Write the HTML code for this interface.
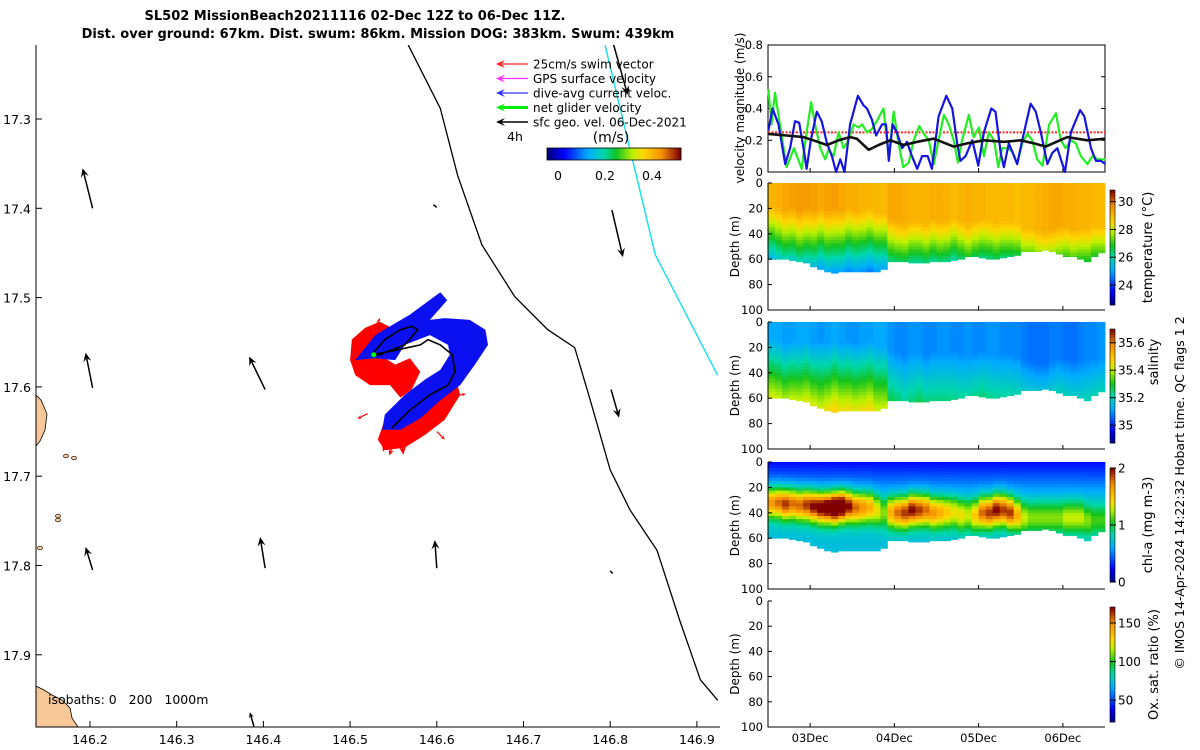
<!DOCTYPE html>
<html><head><meta charset="utf-8">
<style>
html,body{margin:0;padding:0;background:#fff;}
svg{display:block;font-family:"DejaVu Sans","Liberation Sans",sans-serif;}
</style></head>
<body>
<svg id="fig" width="1200" height="750" viewBox="0 0 1200 750" xmlns="http://www.w3.org/2000/svg">
<rect width="1200" height="750" fill="#fff"/>
<text x="355" y="20" text-anchor="middle" font-size="13" font-weight="bold">SL502 MissionBeach20211116 02-Dec 12Z to 06-Dec 11Z.</text>
<text x="378" y="38" text-anchor="middle" font-size="13" font-weight="bold">Dist. over ground: 67km. Dist. swum: 86km. Mission DOG: 383km. Swum: 439km</text>
<g id="map"></g>
<g id="right"></g>
<text transform="translate(1184,493) rotate(-90)" text-anchor="middle" font-size="12.5">© IMOS 14-Apr-2024 14:22:32 Hobart time. QC flags 1  2</text>
</svg>
<script>
// ---------- MAP DATA ----------
const lonTicks=[146.2,146.3,146.4,146.5,146.6,146.7,146.8,146.9];
const latTicks=[17.3,17.4,17.5,17.6,17.7,17.8,17.9];
const coastLon=[146.567,146.604,146.624,146.652,146.690,146.728,146.759,146.777,146.800,146.823,146.854,146.880,146.904,146.924];
const coastLat=[17.217,17.288,17.363,17.441,17.499,17.536,17.556,17.615,17.693,17.738,17.783,17.861,17.928,17.951];
const cyanLon=[146.794,146.852,146.924];
const cyanLat=[17.217,17.452,17.587];
const arrLon=[146.203,146.203,146.203,146.402,146.402,146.600,146.802,146.801,146.804,146.389,146.596,146.800];
const arrLat=[17.400,17.601,17.805,17.603,17.803,17.803,17.402,17.603,17.217,17.980,17.396,17.806];
const arrU=[-0.10,-0.07,-0.07,-0.16,-0.05,-0.02,0.11,0.08,0.14,-0.04,0.04,0.03];
const arrV=[0.40,0.35,0.23,0.33,0.31,0.28,-0.47,-0.28,-0.50,0.14,-0.03,-0.03];
const blueLon=[146.506,146.529,146.569,146.604,146.612,146.592,146.609,146.638,146.656,146.659,146.644,146.627,146.604,146.581,146.558,146.537,146.540,146.563,146.586,146.604,146.615,146.613,146.592,146.563,146.552,146.529];
const blueLat=[17.570,17.542,17.519,17.494,17.503,17.525,17.523,17.525,17.536,17.553,17.575,17.598,17.615,17.635,17.648,17.648,17.631,17.609,17.592,17.581,17.564,17.553,17.542,17.553,17.570,17.568];
const red1Lon=[146.502,146.517,146.534,146.552,146.558,146.534,146.552,146.569,146.581,146.571,146.558,146.546,146.523,146.506,146.500];
const red1Lat=[17.547,17.534,17.527,17.536,17.553,17.564,17.575,17.568,17.583,17.603,17.612,17.598,17.598,17.587,17.570];
const red2Lon=[146.540,146.563,146.586,146.609,146.621,146.627,146.609,146.586,146.563,146.540,146.532];
const red2Lat=[17.637,17.620,17.609,17.598,17.587,17.609,17.637,17.654,17.668,17.671,17.659];
const trackLon=[146.525,146.540,146.558,146.571,146.578,146.563,146.534,146.525,146.552,146.581,146.590,146.604,146.618,146.621,146.613,146.592,146.569,146.548];
const trackLat=[17.564,17.547,17.536,17.532,17.536,17.553,17.564,17.564,17.559,17.553,17.547,17.553,17.564,17.583,17.598,17.609,17.626,17.646];
const swimLon=[146.558,146.546,146.529,146.513,146.551,146.520,146.600,146.622];
const swimLat=[17.648,17.648,17.532,17.540,17.660,17.630,17.650,17.610];
const swimU=[0.03,-0.07,0.05,-0.08,-0.05,-0.10,0.08,0.10];
const swimV=[-0.25,-0.22,0.08,-0.08,-0.15,-0.05,-0.08,0.02];

// ---------- TIME SERIES DATA ----------
const dateTickLabels=["03Dec","04Dec","05Dec","06Dec"];
const dateTickHours=[12,36,60,84];
const velTicks=[0,0.2,0.4,0.6,0.8];
const depthTicks=[0,20,40,60,80,100];
const blueH=[0.1,1.3,3.0,4.9,6.3,7.7,8.9,10.1,11.0,12.2,13.9,15.3,16.8,18.2,19.4,20.6,21.8,23.4,25.6,27.2,28.2,29.6,30.8,32.5,33.6,34.4,35.5,36.7,38.2,39.6,41.0,42.5,43.9,45.5,46.7,48.6,50.8,52.5,53.9,54.8,56.3,58.2,59.9,61.5,63.6,64.8,66.3,67.2,68.6,70.1,71.0,72.4,74.8,76.3,77.7,79.6,81.0,82.4,84.6,86.3,88.9,90.1,92.0,93.4,94.8,96.1];
const blueV=[0.26,0.40,0.30,0.05,0.15,0.32,0.31,0.15,0.02,0.20,0.38,0.32,0.18,0.10,0.0,0.08,0.0,0.30,0.48,0.42,0.40,0.33,0.23,0.30,0.30,0.07,0.30,0.25,0.15,0.19,0.10,0.02,0.10,0.10,0.02,0.35,0.48,0.40,0.18,0.07,0.10,0.20,0.04,0.25,0.40,0.38,0.12,0.03,0.18,0.10,0.05,0.20,0.43,0.38,0.25,0.05,0.12,0.15,0.0,0.25,0.39,0.35,0.15,0.07,0.07,0.05];
const greenH=[0.1,1.0,2.0,3.4,5.3,7.4,9.6,11.0,12.3,13.4,14.9,16.3,17.2,18.7,20.1,21.5,22.9,24.4,25.8,26.8,28.2,29.6,31.0,32.9,34.4,35.8,37.2,38.5,40.1,41.5,43.1,44.4,45.8,47.2,48.6,50.1,51.5,52.9,54.1,55.3,57.2,58.6,60.1,61.5,62.9,64.4,65.6,66.7,68.2,69.6,71.0,72.4,73.9,75.3,76.7,78.2,80.1,82.0,83.4,84.8,86.3,87.7,89.1,91.0,92.4,93.9,96.1];
const greenV=[0.52,0.30,0.50,0.30,0.03,0.15,0.02,0.25,0.44,0.30,0.15,0.08,0.14,0.10,0.25,0.15,0.20,0.30,0.28,0.30,0.25,0.27,0.32,0.40,0.10,0.38,0.18,0.03,0.06,0.20,0.29,0.24,0.20,0.05,0.20,0.36,0.30,0.20,0.06,0.20,0.36,0.22,0.28,0.10,0.25,0.20,0.03,0.15,0.15,0.13,0.05,0.18,0.24,0.20,0.08,0.04,0.30,0.37,0.20,0.15,0.20,0.18,0.10,0.05,0.10,0.08,0.08];
const blackH=[0.1,5.3,10.1,12.9,16.8,20.1,23.4,25.3,28.7,31.5,34.8,38.7,42.5,47.2,52.9,56.7,61.5,67.2,72.0,75.8,79.1,85.3,91.0,96.1];
const blackV=[0.24,0.23,0.22,0.20,0.17,0.20,0.22,0.21,0.14,0.17,0.20,0.17,0.19,0.21,0.16,0.18,0.20,0.19,0.20,0.18,0.16,0.22,0.20,0.21];
const swimRef=[0.25];
const bottomDepth=[60,60,60,61,62,63,66,68,70,71,70,70,70,70,70,70,68,62,62,62,63,63,63,62,62,62,61,60,58,58,59,60,60,59,58,57,54,54,54,53,54,56,58,58,60,62,58,55];
const mixedDepth=[18,20,22,20,22,20,22,20,22,20,22,20,22,22,20,24,24,28,30,32,30,30,32,28,30,30,28,30,32,30,28,30,32,30,30,32,36,36,38,38,36,34,34,36,36,36,34,34];
const surfTemp=[29.1,29.2,29.3,29.4,29.5,29.5,29.4,29.3,29.4,29.5,29.3,29.2,29.2,29.1,29.1,29.0,29.0,29.3,29.3,29.2,29.1,29.1,29.1,29.2,29.2,29.1,29.0,29.1,29.2,29.1,29.1,29.0,29.0,29.0,29.0,28.9,29.0,29.0,29.1,29.2,29.3,29.3,29.2,29.2,29.1,29.1,29.0,29.0];
const surfSal=[35.12,35.12,35.11,35.11,35.12,35.12,35.11,35.10,35.11,35.12,35.11,35.10,35.10,35.11,35.11,35.12,35.12,35.10,35.09,35.09,35.10,35.10,35.09,35.09,35.10,35.10,35.09,35.09,35.10,35.09,35.09,35.10,35.10,35.09,35.09,35.09,35.08,35.07,35.07,35.07,35.08,35.08,35.07,35.07,35.08,35.09,35.09,35.10];
const salGrad=[0.0065,0.0065,0.0065,0.0065,0.0065,0.0065,0.0065,0.006,0.0065,0.0065,0.0065,0.0065,0.0065,0.0065,0.0065,0.006,0.006,0.0045,0.0045,0.004,0.004,0.0045,0.0045,0.004,0.004,0.004,0.004,0.004,0.004,0.0045,0.0045,0.004,0.004,0.004,0.004,0.004,0.0045,0.0045,0.0045,0.0045,0.0045,0.0045,0.0045,0.0045,0.004,0.004,0.004,0.004];
const chlPeak=[1.0,1.1,1.2,1.1,1.1,1.2,1.3,1.4,1.5,1.7,1.6,1.3,1.1,1.0,0.9,0.7,0.5,0.9,1.1,1.2,1.3,1.2,1.1,1.0,0.9,0.8,0.7,0.7,0.6,0.8,1.1,1.2,1.3,1.2,1.2,0.9,0.6,0.5,0.5,0.5,0.5,0.5,0.6,0.6,0.6,0.5,0.4,0.4];
const chlPeakDepth=[32,32,33,33,34,34,35,36,36,36,35,35,36,36,36,38,40,40,40,40,38,38,38,40,40,40,40,42,42,42,40,40,38,38,40,42,44,44,44,44,44,44,44,44,44,46,46,46];
const tempTicks=[24,26,28,30], salTicks=[35,35.2,35.4,35.6], chlTicks=[0,1,2], oxTicks=[50,100,150];

// ---------- helpers ----------
const NS="http://www.w3.org/2000/svg";
function mk(tag,attrs,parent){const e=document.createElementNS(NS,tag);for(const k in attrs)e.setAttribute(k,attrs[k]);parent.appendChild(e);return e;}
const stops=[[0,[0,0,130]],[0.12,[0,0,255]],[0.3,[0,170,255]],[0.42,[0,215,170]],[0.52,[20,195,30]],[0.64,[190,240,0]],[0.72,[255,215,0]],[0.86,[245,145,0]],[1,[128,0,0]]];
function cmap(t){t=Math.max(0,Math.min(1,t));for(let i=1;i<stops.length;i++){if(t<=stops[i][0]){const a=stops[i-1],b=stops[i],f=(t-a[0])/(b[0]-a[0]);const c=a[1].map((v,j)=>Math.round(v+(b[1][j]-v)*f));return`rgb(${c[0]},${c[1]},${c[2]})`;}}return"rgb(128,0,0)";}

// ---------- MAP ----------
const map=document.getElementById('map');
const lonX=l=>90+(l-146.2)*867, latY=l=>119+(l-17.3)*893;
const MX0=36,MX1=720,MY0=45,MY1=727;
mk('defs',{},map).innerHTML='<clipPath id="mclip"><rect x="36" y="45" width="684" height="682"/></clipPath>';
const mg=mk('g',{'clip-path':'url(#mclip)'},map);


const land1=mk('path',{d:'M36,395 L41,400 L47,414 L45,430 L40,441 L36,446 Z',fill:'#f9c898',stroke:'#000','stroke-width':0.8},mg);


const land2=mk('path',{d:'M36,686 L44,690 L52,695 L62,700 L70,708 L72,718 L78,727 L36,727 Z',fill:'#f9c898',stroke:'#000','stroke-width':0.8},mg);


[[66,456],[74,458],[58,516],[40,548],[58,520]].forEach(p=>{const d=mk('ellipse',{cx:p[0],cy:p[1],rx:2.5,ry:1.8,fill:'#f9c898',stroke:'#000','stroke-width':0.7},mg);});
function poly(lons,lats){return lons.map((l,i)=>lonX(l).toFixed(1)+','+latY(lats[i]).toFixed(1)).join(' ');}
const coast=mk('polyline',{points:poly(coastLon,coastLat),fill:'none',stroke:'#000','stroke-width':1.3},mg);


const cy=mk('polyline',{points:poly(cyanLon,cyanLat),fill:'none',stroke:'#22e0e8','stroke-width':1.5},mg);


const r1=mk('polygon',{points:poly(red1Lon,red1Lat),fill:'#ff0000'},mg);


const r2=mk('polygon',{points:poly(red2Lon,red2Lat),fill:'#ff0000'},mg);


function arrow(g,x,y,dx,dy,col,w,name){const x2=x+dx,y2=y+dy;const L=Math.hypot(dx,dy)||1;const ux=dx/L,uy=dy/L;const hl=Math.min(9,L*0.4),hw=hl*0.45;
 const ln=mk('line',{x1:x,y1:y,x2:x2-ux*hl*0.6,y2:y2-uy*hl*0.6,stroke:col,'stroke-width':w},g);
 
 
 const hd=mk('polygon',{points:`${x2},${y2} ${x2-ux*hl-uy*hw},${y2-uy*hl+ux*hw} ${x2-ux*hl*0.6},${y2-uy*hl*0.6} ${x2-ux*hl+uy*hw},${y2-uy*hl-ux*hw}`,fill:col},g);
 
 }
swimLon.forEach((l,i)=>arrow(mg,lonX(l),latY(swimLat[i]),swimU[i]*100,-swimV[i]*100,'#ff0000',1.2,'swim-vector'));
const bl=mk('polygon',{points:poly(blueLon,blueLat),fill:'#0a10f0'},mg);


const tr=mk('polyline',{points:poly(trackLon,trackLat),fill:'none',stroke:'#000','stroke-width':1.6},mg);


const gd=mk('circle',{cx:lonX(trackLon[0])+2,cy:latY(trackLat[0]),r:2.5,fill:'#00ff00'},mg);


arrLon.forEach((l,i)=>arrow(mg,lonX(l),latY(arrLat[i]),arrU[i]*100,-arrV[i]*100,'#000',1.5,'geostrophic-velocity-arrow'));
const ax=mk('path',{d:`M${MX0},${MY0} L${MX0},${MY1} L${MX1},${MY1}`,fill:'none',stroke:'#000','stroke-width':1},map);


lonTicks.forEach(t=>{const x=lonX(t);mk('line',{x1:x,y1:MY1,x2:x,y2:MY1-6,stroke:'#000'},map);const tx=mk('text',{x:x,y:744,'text-anchor':'middle','font-size':12.5},map);tx.textContent=t.toFixed(1);
 
 });
latTicks.forEach(t=>{const y=latY(t);mk('line',{x1:MX0,y1:y,x2:MX0+6,y2:y,stroke:'#000'},map);const tx=mk('text',{x:31,y:y+5,'text-anchor':'end','font-size':12.5},map);tx.textContent=t.toFixed(1);
 
 });
const iso=mk('text',{x:48,y:704,'font-size':12.5,style:'white-space:pre'},map);iso.textContent='isobaths: 0   200   1000m';


// legend
const legTxt=['25cm/s swim vector','GPS surface velocity','dive-avg current veloc.','net glider velocity','sfc geo. vel. 06-Dec-2021'];
const legCol=['#ff2020','#ff30ff','#3030ff','#00ee00','#000'];
const legW=[1.2,1.2,1.2,3,1.5];
const lg=mk('g',{},map);


legTxt.forEach((t,i)=>{const y=64+i*14.5;arrow(lg,528,y,-32,0,legCol[i],legW[i],'legend-swatch');const tx=mk('text',{x:533,y:y+4.5,'font-size':12},lg);tx.textContent=t;
 
 });
const h4=mk('text',{x:507,y:141,'font-size':12.5},lg);h4.textContent='4h';


const ms=mk('text',{x:611,y:142,'font-size':14,'text-anchor':'middle'},lg);ms.textContent='(m/s)';


for(let i=0;i<67;i++){const c=mk('rect',{x:547+i*2,y:148,width:2.3,height:12,fill:cmap(i/66)},lg);}
mk('rect',{x:547,y:148,width:134,height:12,fill:'none',stroke:'#000','stroke-width':0.8},lg);
[[0,558],[0.2,605],[0.4,652]].forEach(p=>{const tx=mk('text',{x:p[1],y:180,'text-anchor':'middle','font-size':12.5},lg);tx.textContent=p[0]===0?'0':p[0].toFixed(1);});

// ---------- RIGHT PANELS ----------
const R=document.getElementById('right');
const PX0=768,PX1=1105;
const hx=h=>PX0+h/96*(PX1-PX0);
const VY0=45,VY1=172;const vy=v=>VY1-v/0.8*(VY1-VY0);
const vb=mk('rect',{x:PX0,y:VY0,width:PX1-PX0,height:VY1-VY0,fill:'none',stroke:'#000','stroke-width':1},R);


velTicks.forEach(t=>{const y=vy(t);mk('line',{x1:PX0,y1:y,x2:PX0+4,y2:y,stroke:'#000'},R);mk('line',{x1:PX1,y1:y,x2:PX1-4,y2:y,stroke:'#000'},R);const tx=mk('text',{x:763,y:y+4,'text-anchor':'end','font-size':11.5},R);tx.textContent=t===0?'0':t.toFixed(1);
 
 });
dateTickHours.forEach(h=>{mk('line',{x1:hx(h),y1:VY1,x2:hx(h),y2:VY1-4,stroke:'#000'},R);});
const rr=mk('line',{x1:hx(0),y1:vy(swimRef[0]),x2:hx(96),y2:vy(swimRef[0]),stroke:'#ff2020','stroke-width':2,'stroke-dasharray':'2,1.5'},R);


function series(H,V,col,w,name){const p=mk('polyline',{points:H.map((h,i)=>hx(h).toFixed(1)+','+vy(V[i]).toFixed(1)).join(' '),fill:'none',stroke:col,'stroke-width':w,'stroke-linejoin':'round'},R);}
series(greenH,greenV,'#22ee22',2.2,'net-glider-velocity-line');
series(blueH,blueV,'#1515e0',2.2,'dive-avg-current-line');
series(blackH,blackV,'#111',2.6,'surface-geostrophic-line');
const vl=mk('text',{transform:'translate(744,108) rotate(-90)','text-anchor':'middle','font-size':12},R);vl.textContent='velocity magnitude (m/s)';



const panels=[
 {name:'temperature',y0:183,y1:310,cb0:190,cb1:305,vmin:22.56,vmax:30.84,ticks:tempTicks,label:'temperature (°C)',fmt:v=>String(v),
  f:(i,z)=>surfTemp[i]-0.09*Math.max(0,z-mixedDepth[i])},
 {name:'salinity',y0:322,y1:449,cb0:329,cb1:443,vmin:34.87,vmax:35.70,ticks:salTicks,label:'salinity',fmt:v=>v===35?'35':v.toFixed(1),
  f:(i,z)=>surfSal[i]+salGrad[i]*Math.max(0,z-mixedDepth[i]+5)},
 {name:'chlorophyll',y0:462,y1:589,cb0:468,cb1:582,vmin:0,vmax:2,ticks:chlTicks,label:'chl-a (mg m-3)',fmt:v=>String(v),
  f:(i,z)=>0.25+0.45*Math.min(1,z/30)+chlPeak[i]*Math.exp(-Math.pow((z-chlPeakDepth[i])/12,2))},
 {name:'oxygen',y0:601,y1:727,cb0:607,cb1:722,vmin:21.6,vmax:170.7,ticks:oxTicks,label:'Ox. sat. ratio (%)',fmt:v=>String(v),f:null}
];
panels.forEach(P=>{
 const g=mk('g',{},R);
 
 
 const dy=z=>P.y0+z/100*(P.y1-P.y0);
 if(P.f){
  bottomDepth.forEach((b,i)=>{const x0=hx(i*2),x1=hx(i*2+2);
   for(let z=0;z<b;z+=2.5){const zz=Math.min(b,z+2.5);const v=P.f(i,z+1.25);
    const c=mk('rect',{x:x0.toFixed(2),y:dy(z).toFixed(2),width:(x1-x0+0.4).toFixed(2),height:(dy(zz)-dy(z)+0.4).toFixed(2),fill:cmap((v-P.vmin)/(P.vmax-P.vmin))},g);
    
    }});
 }
 const a=mk('path',{d:`M${PX0},${P.y0} L${PX0},${P.y1} L${PX1},${P.y1}`,fill:'none',stroke:'#000','stroke-width':1},g);
 
 
 depthTicks.forEach(t=>{const y=dy(t);mk('line',{x1:PX0,y1:y,x2:PX0+4,y2:y,stroke:'#000'},g);const tx=mk('text',{x:763,y:y+4,'text-anchor':'end','font-size':11.5},g);tx.textContent=String(t);
  
  });
 dateTickHours.forEach(h=>{mk('line',{x1:hx(h),y1:P.y1,x2:hx(h),y2:P.y1-4,stroke:'#000'},g);});
 const yl=mk('text',{transform:`translate(739,${(P.y0+P.y1)/2}) rotate(-90)`,'text-anchor':'middle','font-size':12},g);yl.textContent='Depth (m)';
 
 
 const n=40;for(let k=0;k<n;k++){const c=mk('rect',{x:1110,y:(P.cb1-(k+1)*(P.cb1-P.cb0)/n).toFixed(2),width:5,height:((P.cb1-P.cb0)/n+0.4).toFixed(2),fill:cmap((k+0.5)/n)},g);}
 mk('rect',{x:1110,y:P.cb0,width:5,height:P.cb1-P.cb0,fill:'none',stroke:'#000','stroke-width':0.6},g);
 P.ticks.forEach(t=>{const y=P.cb1-(t-P.vmin)/(P.vmax-P.vmin)*(P.cb1-P.cb0);mk('line',{x1:1110,y1:y,x2:1116,y2:y,stroke:'#000'},g);const tx=mk('text',{x:1118,y:y+4.5,'font-size':12},g);tx.textContent=P.fmt(t);
  
  });
 const cl=mk('text',{transform:`translate(${P.name==='salinity'||P.name==='oxygen'?1158:1152},${P.name==='salinity'?362:(P.cb0+P.cb1)/2}) rotate(-90)`,'text-anchor':'middle','font-size':13},g);cl.textContent=P.label;
 
 
});
dateTickLabels.forEach((t,i)=>{const tx=mk('text',{x:hx(dateTickHours[i]),y:742,'text-anchor':'middle','font-size':11.5},R);tx.textContent=t;
 
 });
</script>
</body></html>
